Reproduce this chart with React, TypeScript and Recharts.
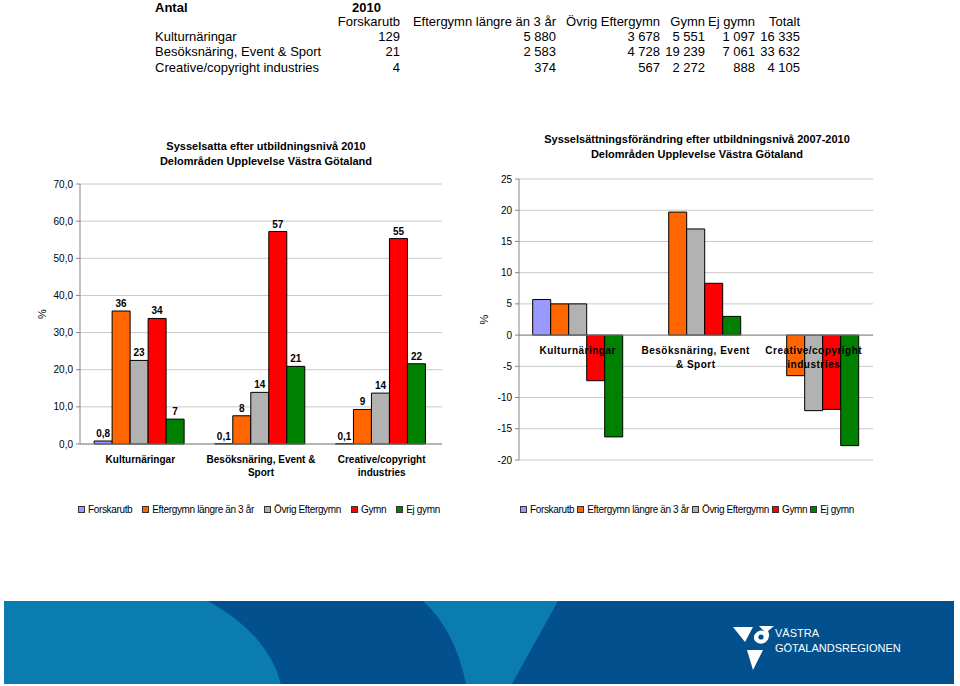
import React from "react";
import { BarChart, Bar, XAxis, YAxis, CartesianGrid, LabelList, Legend, ReferenceLine } from "recharts";

const FONT = "'Liberation Sans', Arial, Helvetica, sans-serif";

// ---- table ----
const tableCorner = "Antal";
const tableYear = "2010";
const tableHeaders = ["Forskarutb", "Eftergymn längre än 3 år", "Övrig Eftergymn", "Gymn", "Ej gymn", "Totalt"];
const tableRowLabels = ["Kulturnäringar", "Besöksnäring, Event & Sport", "Creative/copyright industries"];
const tableKultur = ["129", "5 880", "3 678", "5 551", "1 097", "16 335"];
const tableBesok = ["21", "2 583", "4 728", "19 239", "7 061", "33 632"];
const tableCreative = ["4", "374", "567", "2 272", "888", "4 105"];

// ---- charts ----
const categories = ["Kulturnäringar", "Besöksnäring, Event & Sport", "Creative/copyright industries"];
const leftTickLines = [["Kulturnäringar"], ["Besöksnäring, Event &", "Sport"], ["Creative/copyright", "industries"]];
const rightTickLines = [["Kulturnäringar"], ["Besöksnäring, Event", "& Sport"], ["Creative/copyright", "industries"]];

const seriesNames = ["Forskarutb", "Eftergymn längre än 3 år", "Övrig Eftergymn", "Gymn", "Ej gymn"];
const seriesColors = ["#9999ff", "#ff6600", "#b2b2b2", "#ff0000", "#008000"];

const forskarutb2010 = [0.8, 0.1, 0.1];
const eftergymn2010 = [35.8, 7.6, 9.3];
const ovrigEftergymn2010 = [22.5, 13.9, 13.7];
const gymn2010 = [33.8, 57.2, 55.3];
const ejGymn2010 = [6.7, 20.9, 21.6];

const forskarutbChange = [5.7, null, null];
const eftergymnChange = [5.0, 19.7, -6.5];
const ovrigEftergymnChange = [5.0, 17.0, -12.1];
const gymnChange = [-7.3, 8.3, -11.9];
const ejGymnChange = [-16.3, 3.0, -17.7];

const leftTicks = [0, 10, 20, 30, 40, 50, 60, 70];
const rightTicks = [-20, -15, -10, -5, 0, 5, 10, 15, 20, 25];

const leftTitle = ["Sysselsatta efter utbildningsnivå 2010", "Delområden Upplevelse Västra Götaland"];
const rightTitle = ["Sysselsättningsförändring efter utbildningsnivå 2007-2010", "Delområden Upplevelse Västra Götaland"];
const axisUnit = "%";
const logoLines = ["VÄSTRA", "GÖTALANDSREGIONEN"];

const keys = ["s0", "s1", "s2", "s3", "s4"];

const leftSeries = [forskarutb2010, eftergymn2010, ovrigEftergymn2010, gymn2010, ejGymn2010];
const rightSeries = [forskarutbChange, eftergymnChange, ovrigEftergymnChange, gymnChange, ejGymnChange];

const leftData = categories.map((name, i) => {
  const row: any = { name };
  keys.forEach((k, j) => (row[k] = leftSeries[j][i]));
  return row;
});
const rightData = categories.map((name, i) => {
  const row: any = { name };
  keys.forEach((k, j) => (row[k] = rightSeries[j][i]));
  return row;
});

const GRID = "#c8c8c8";
const AXIS = "#868686";

const fmtLeftTick = (v: number) => v.toFixed(1).replace(".", ",");
const fmtLeftLabel = (v: any) => {
  if (v === null || v === undefined) return "";
  const n = Number(v);
  return n < 1 ? n.toFixed(1).replace(".", ",") : String(Math.round(n));
};

const LeftTick = (props: any) => {
  const { x, y, payload } = props;
  const idx = categories.indexOf(payload.value);
  const lines = leftTickLines[idx] || [String(payload.value)];
  return (
    <text x={x} y={y} textAnchor="middle" fontFamily={FONT} fontSize={10} fontWeight="bold" fill="#000">
      {lines.map((l, i) => (
        <tspan key={i} x={x} dy={i === 0 ? 18.5 : 13.5}>
          {l}
        </tspan>
      ))}
    </text>
  );
};

// Category labels drawn at the zero line of the right chart, anchored on the last series (Ej gymn)
const RightCatLabel = (props: any) => {
  const x = Number(props.x);
  const y = Number(props.y);
  const w = Number(props.width);
  const h = Number(props.height);
  const idx = props.index;
  if (!isFinite(x) || !isFinite(y) || !isFinite(w)) return null;
  const v = ejGymnChange[idx] ?? 0;
  const zero = v >= 0 ? Math.max(y, y + h) : Math.min(y, y + h);
  const cx = x + w / 2 - 2 * w; // centre of the 5-bar group
  const lines = rightTickLines[idx] || [];
  return (
    <text x={cx} y={zero} textAnchor="middle" fontFamily={FONT} fontSize={10} fontWeight="bold" letterSpacing={0.5} fill="#000">
      {lines.map((l, i) => (
        <tspan key={i} x={cx} dy={i === 0 ? 19 : 14}>
          {l}
        </tspan>
      ))}
    </text>
  );
};

const pctLabel = (xPos: number) => (props: any) => {
  const vb = props.viewBox || {};
  const cy = vb.y + vb.height / 2;
  return (
    <text x={xPos} y={cy} textAnchor="middle" dominantBaseline="central" fontFamily={FONT} fontSize={11} fill="#000" transform={`rotate(-90, ${xPos}, ${cy})`}>
      {axisUnit}
    </text>
  );
};

const makeLegend = (gap: number) => () => (
  <div style={{ display: "flex", alignItems: "center", height: 18, fontFamily: FONT, fontSize: 10, letterSpacing: -0.35, color: "#000", whiteSpace: "nowrap" }}>
    {seriesNames.map((n, i) => (
      <span key={n} style={{ display: "inline-flex", alignItems: "center", marginRight: gap }}>
        <span style={{ display: "inline-block", width: 5, height: 5, background: seriesColors[i], border: "1px solid #333", marginRight: 3 }} />
        {n}
      </span>
    ))}
  </div>
);

const Title = ({ lines, cx, top }: { lines: string[]; cx: number; top: number }) => (
  <div style={{ position: "absolute", left: cx - 250, top, width: 500, textAlign: "center", fontFamily: FONT, fontSize: 11, fontWeight: "bold", lineHeight: "15px", color: "#000" }}>
    {lines.map((l) => (
      <div key={l}>{l}</div>
    ))}
  </div>
);

const colRight = [400, 556, 660, 705, 755, 800];
const rowCenter = [7.5, 21, 36.3, 51.8, 67.3];

const Cell = ({ text, x, cy, right, bold }: { text: string; x: number; cy: number; right?: boolean; bold?: boolean }) => (
  <div
    style={{
      position: "absolute",
      top: cy - 7.5,
      left: x,
      transform: right ? "translateX(-100%)" : undefined,
      fontFamily: FONT,
      fontSize: 13,
      lineHeight: "15px",
      fontWeight: bold ? "bold" : "normal",
      whiteSpace: "nowrap",
      color: "#000",
    }}
  >
    {text}
  </div>
);

const Table = () => {
  const rows = [tableKultur, tableBesok, tableCreative];
  return (
    <>
      <Cell text={tableCorner} x={155} cy={rowCenter[0]} bold />
      <Cell text={tableYear} x={352} cy={rowCenter[0]} bold />
      {tableHeaders.map((h, i) => (
        <Cell key={h} text={h} x={colRight[i]} cy={rowCenter[1]} right />
      ))}
      {tableRowLabels.map((r, ri) => (
        <React.Fragment key={r}>
          <Cell text={r} x={155} cy={rowCenter[ri + 2]} />
          {rows[ri].map((v, ci) => (
            <Cell key={ci} text={v} x={colRight[ci]} cy={rowCenter[ri + 2]} right />
          ))}
        </React.Fragment>
      ))}
    </>
  );
};

const Footer = () => (
  <svg style={{ position: "absolute", left: 0, top: 595 }} width={960} height={91} viewBox="0 595 960 91">
    <rect x={4} y={601} width={950} height={83} fill="#03508f" />
    <path d="M4,601 L208,601 Q268,634 281,684 L4,684 Z" fill="#0b7cb0" />
    <path d="M423,601 L558,601 L512,684 L466,684 Q455,630 423,601 Z" fill="#0b7cb0" />
    <polygon points="733,627 753,627 745,642" fill="#fff" />
    <path d="M759,626 L774,626 L768,631 Q771,637 766,642 Q760,646 755,641 Q752,636 757,632 Q761,629 765,632 Z" fill="#fff" />
    <circle cx={761} cy={637} r={2.6} fill="#03508f" />
    <polygon points="747,650 763,650 753,670" fill="#fff" />
    <text x={775} y={637} fontFamily={FONT} fontSize={11} fill="#fff">
      {logoLines[0]}
    </text>
    <text x={775} y={652} fontFamily={FONT} fontSize={11} fill="#fff">
      {logoLines[1]}
    </text>
  </svg>
);

export default function App() {
  return (
    <div style={{ position: "absolute", left: 0, top: 0, width: 960, height: 686, background: "#fff", overflow: "hidden" }}>
      <Table />

      <Title lines={leftTitle} cx={266} top={139} />
      <div style={{ position: "absolute", left: 0, top: 130 }}>
        <BarChart width={460} height={390} data={leftData} margin={{ top: 54, right: 18, bottom: 2, left: 0 }} barCategoryGap="11.7%" barGap={0}>
          <CartesianGrid vertical={false} stroke={GRID} />
          <XAxis dataKey="name" height={56} axisLine={{ stroke: AXIS }} tickLine={false} tickSize={0} tickMargin={0} interval={0} tick={<LeftTick />} />
          <YAxis
            domain={[0, 70]}
            ticks={leftTicks}
            width={80}
            tickSize={4}
            tickMargin={3}
            tickFormatter={fmtLeftTick}
            axisLine={{ stroke: AXIS }}
            tickLine={{ stroke: AXIS }}
            tick={{ fill: "#000", fontSize: 10, fontFamily: FONT }}
            label={pctLabel(42)}
          />
          <YAxis yAxisId="border" orientation="right" width={0} tick={false} tickLine={false} axisLine={{ stroke: GRID }} />
          {keys.map((k, i) => (
            <Bar key={k} dataKey={k} name={seriesNames[i]} fill={seriesColors[i]} stroke="#000" strokeWidth={1} isAnimationActive={false}>
              <LabelList dataKey={k} position="top" offset={4} formatter={fmtLeftLabel} fill="#000" fontSize={10} fontWeight="bold" fontFamily={FONT} />
            </Bar>
          ))}
          <Legend verticalAlign="bottom" align="left" height={18} wrapperStyle={{ left: 78, bottom: 2 }} content={makeLegend(10)} />
        </BarChart>
      </div>

      <Title lines={rightTitle} cx={697} top={132} />
      <div style={{ position: "absolute", left: 460, top: 120 }}>
        <BarChart width={431} height={400} data={rightData} margin={{ top: 59, right: 18, bottom: 2, left: 0 }} barCategoryGap="11.6%" barGap={0}>
          <CartesianGrid vertical={false} stroke={GRID} />
          <XAxis dataKey="name" height={40} axisLine={false} tickLine={false} tick={false} />
          <YAxis
            domain={[-20, 25]}
            ticks={rightTicks}
            width={59}
            tickSize={4}
            tickMargin={3}
            axisLine={{ stroke: AXIS }}
            tickLine={{ stroke: AXIS }}
            tick={{ fill: "#000", fontSize: 10, fontFamily: FONT }}
            label={pctLabel(24)}
          />
          <YAxis yAxisId="border" orientation="right" width={0} tick={false} tickLine={false} axisLine={{ stroke: GRID }} />
          <ReferenceLine y={0} stroke={AXIS} />
          {keys.map((k, i) => (
            <Bar key={k} dataKey={k} name={seriesNames[i]} fill={seriesColors[i]} stroke="#000" strokeWidth={1} isAnimationActive={false}>
              {i === keys.length - 1 ? <LabelList dataKey="name" content={RightCatLabel} /> : null}
            </Bar>
          ))}
          <Legend verticalAlign="bottom" align="left" height={18} wrapperStyle={{ left: 60, bottom: 2 }} content={makeLegend(3)} />
        </BarChart>
      </div>

      <Footer />
    </div>
  );
}
